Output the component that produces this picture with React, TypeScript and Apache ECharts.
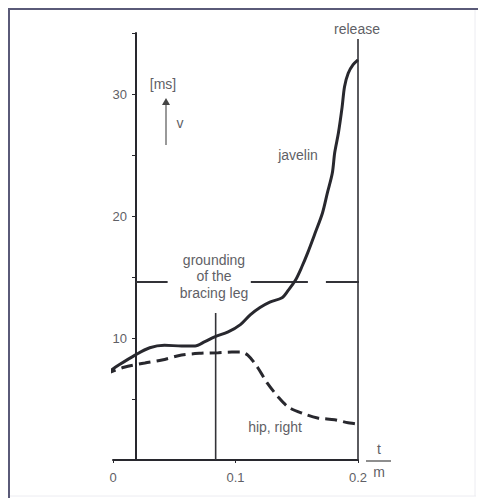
import React, { useEffect, useRef } from "react";
import * as echarts from "echarts";

// time t (s) and velocity v (m/s)
const javelinT = [-0.007, 0.005, 0.018, 0.030, 0.042, 0.056, 0.067, 0.075, 0.083, 0.094, 0.104, 0.112, 0.120, 0.128, 0.138, 0.143, 0.149, 0.154, 0.159, 0.165, 0.171, 0.175, 0.179, 0.181, 0.184, 0.187, 0.189, 0.192, 0.196, 0.200];
const javelinV = [7.0, 7.8, 8.6, 9.2, 9.4, 9.35, 9.35, 9.7, 10.1, 10.5, 11.1, 11.9, 12.5, 12.95, 13.3, 13.9, 14.75, 15.8, 17.0, 18.6, 20.25, 21.9, 23.5, 25.2, 26.8, 28.9, 30.6, 31.7, 32.4, 32.8];

const hipT = [-0.007, 0.009, 0.026, 0.040, 0.056, 0.072, 0.086, 0.097, 0.104, 0.110, 0.118, 0.126, 0.135, 0.143, 0.154, 0.167, 0.181, 0.192, 0.199, 0.207];
const hipV = [7.0, 7.6, 7.95, 8.2, 8.6, 8.75, 8.8, 8.85, 8.85, 8.6, 7.6, 6.3, 5.15, 4.35, 3.85, 3.45, 3.3, 3.05, 2.95, 2.7];

// horizontal reference (dashed) at v = 14.6, broken into segments
const refV = 14.6;
const refSegments = [
  [0.0184, 0.0446],
  [0.1125, 0.1591],
  [0.1738, 0.2106],
];

const groundingT = 0.0838;
const groundingTop = 12.05;
const releaseT = 0.2;
const releaseTop = 34.5;

const xTickValues = [0, 0.1, 0.2];
const yTickLabels = [10, 20, 30];

const zip = (a: number[], b: number[]) => a.map((x, i) => [x, b[i]]);

const FONT = '"Liberation Sans", Arial, sans-serif';
const TXT = "#5f5f66";
const INK = "#28282e";

function txt(text: string, x: number, y: number, size = 14) {
  return {
    type: "text",
    z: 20,
    style: {
      text,
      x,
      y,
      fill: TXT,
      font: `${size}px ${FONT}`,
      align: "center",
      verticalAlign: "middle",
      textAlign: "center",
      textVerticalAlign: "middle",
    },
  };
}

export default function App() {
  const ref = useRef<HTMLDivElement>(null);
  useEffect(() => {
    if (!ref.current) return;
    const chart = echarts.init(ref.current, undefined, { renderer: "svg" });
    const lineBase = {
      type: "line",
      showSymbol: false,
      symbol: "none",
      clip: false,
      silent: true,
    };
    const series: any[] = [
      {
        ...lineBase,
        name: "javelin",
        data: zip(javelinT, javelinV),
        smooth: 0.3,
        z: 6,
        lineStyle: { color: INK, width: 3 },
      },
      {
        ...lineBase,
        name: "hip, right",
        data: zip(hipT, hipV),
        smooth: 0.3,
        z: 6,
        lineStyle: { color: INK, width: 3, type: [12, 6] },
      },
      ...refSegments.map((s) => ({
        ...lineBase,
        data: [
          [s[0], refV],
          [s[1], refV],
        ],
        lineStyle: { color: "#333338", width: 2 },
      })),
      {
        ...lineBase,
        data: [
          [groundingT, 0],
          [groundingT, groundingTop],
        ],
        lineStyle: { color: "#333338", width: 1.6 },
      },
      {
        ...lineBase,
        data: [
          [releaseT, 0],
          [releaseT, releaseTop],
        ],
        lineStyle: { color: "#333338", width: 1.6 },
      },
    ];

    chart.setOption({
      animation: false,
      backgroundColor: "#ffffff",
      grid: { left: 113, right: 120, top: 33, bottom: 40, containLabel: false },
      xAxis: {
        type: "value",
        min: 0,
        max: 0.2,
        interval: 0.1,
        axisLine: { show: true, onZero: false, lineStyle: { color: INK, width: 2 } },
        axisTick: { show: true, length: 3, customValues: xTickValues, lineStyle: { color: INK } },
        axisLabel: {
          color: TXT,
          fontSize: 13,
          fontFamily: FONT,
          margin: 11,
          customValues: xTickValues,
          formatter: (v: number) => String(v),
        },
        splitLine: { show: false },
      },
      yAxis: {
        type: "value",
        min: 0,
        max: 35,
        interval: 5,
        offset: -23,
        axisLine: { show: true, onZero: false, lineStyle: { color: INK, width: 2 } },
        axisTick: { show: true, length: 4, lineStyle: { color: INK } },
        axisLabel: {
          color: TXT,
          fontSize: 13,
          fontFamily: FONT,
          margin: 9,
          formatter: (v: number) => (yTickLabels.includes(v) ? String(v) : ""),
        },
        splitLine: { show: false },
      },
      graphic: [
        // frame
        { type: "line", z: 30, shape: { x1: 9, y1: 8, x2: 9, y2: 498 }, style: { stroke: "#5a5a78", lineWidth: 2 } },
        { type: "line", z: 30, shape: { x1: 8, y1: 9, x2: 478, y2: 9 }, style: { stroke: "#5a5a78", lineWidth: 2 } },
        { type: "line", z: 30, shape: { x1: 475, y1: 10, x2: 475, y2: 496 }, style: { stroke: "#ececf1", lineWidth: 1 } },
        { type: "line", z: 30, shape: { x1: 10, y1: 496, x2: 476, y2: 496 }, style: { stroke: "#ececf1", lineWidth: 1 } },
        // annotations
        txt("release", 357, 29),
        txt("[ms]", 163, 84),
        { type: "line", z: 20, shape: { x1: 166, y1: 145, x2: 166, y2: 103 }, style: { stroke: "#555", lineWidth: 1.2 } },
        { type: "polygon", z: 20, shape: { points: [[162, 105], [170, 105], [166, 98]] }, style: { fill: "#444" } },
        txt("v", 180, 123),
        txt("javelin", 298, 155),
        txt("grounding", 214, 260),
        txt("of the", 214, 276),
        txt("bracing leg", 214, 293),
        txt("hip, right", 275, 427),
        txt("t", 379, 449),
        { type: "line", z: 20, shape: { x1: 366, y1: 461, x2: 391, y2: 461 }, style: { stroke: "#444", lineWidth: 1.2 } },
        txt("m", 379, 472),
      ],
      series,
    });
    return () => chart.dispose();
  }, []);
  return (
    <div
      ref={ref}
      style={{ position: "absolute", left: 0, top: 0, width: 478, height: 500 }}
    />
  );
}
